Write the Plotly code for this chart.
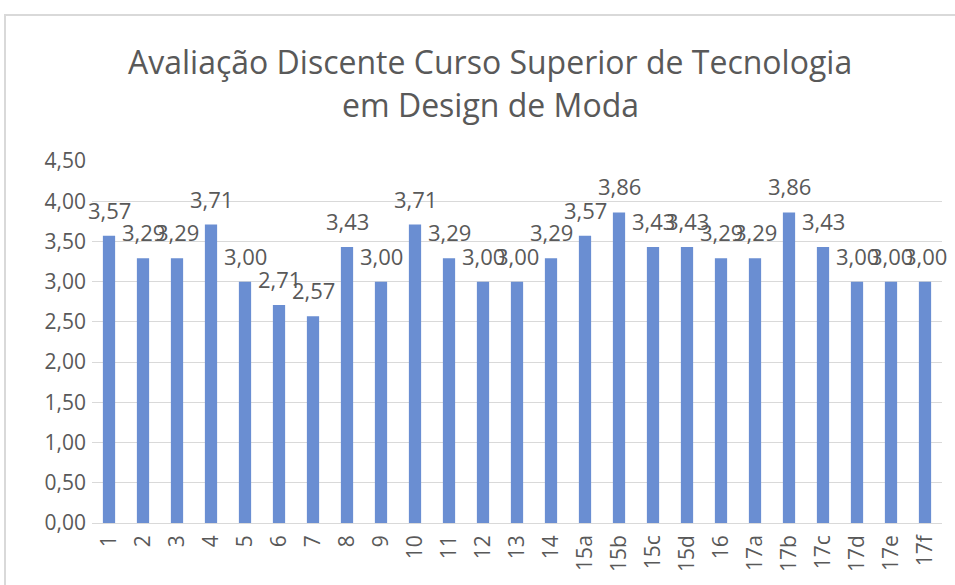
import plotly.graph_objects as go

categories = ["1", "2", "3", "4", "5", "6", "7", "8", "9", "10", "11", "12", "13", "14",
              "15a", "15b", "15c", "15d", "16", "17a", "17b", "17c", "17d", "17e", "17f"]
values = [3.57, 3.29, 3.29, 3.71, 3.00, 2.71, 2.57, 3.43, 3.00, 3.71, 3.29, 3.00, 3.00, 3.29,
          3.57, 3.86, 3.43, 3.43, 3.29, 3.29, 3.86, 3.43, 3.00, 3.00, 3.00]
y_ticks = [0, 0.5, 1.0, 1.5, 2.0, 2.5, 3.0, 3.5, 4.0, 4.5]
title_lines = ["Avaliação Discente Curso Superior de Tecnologia", "em Design de Moda"]

FONT = "Open Sans"
GRAY = "#595959"
BAR = "#6A8ED2"

def fmt(v):
    return f"{v:.2f}".replace(".", ",")

W, H = 955, 585
L, R, T, B = 92, 13, 161, 62
pw, ph = W - L - R, H - T - B

fig = go.Figure()
fig.add_trace(go.Bar(x=categories, y=values, marker=dict(color=BAR, line=dict(width=0)),
                     hoverinfo="x+y"))

annotations = []
for i, v in enumerate(values):
    annotations.append(dict(x=i, y=v, xref="x", yref="y", text=fmt(v), showarrow=False,
                            xanchor="center", yanchor="middle", yshift=26,
                            font=dict(family=FONT, size=22, color=GRAY)))
for line, ypx in zip(title_lines, [62, 105]):
    annotations.append(dict(x=(490 - L) / pw, y=(H - B - ypx) / ph, xref="paper", yref="paper",
                            text=line, showarrow=False, yanchor="middle", xanchor="center",
                            font=dict(family=FONT, size=32, color=GRAY)))

fig.update_layout(
    width=W, height=H,
    margin=dict(l=L, r=R, t=T, b=B, pad=0),
    paper_bgcolor="white", plot_bgcolor="white",
    showlegend=False,
    bargap=0.64,
    annotations=annotations,
    xaxis=dict(type="category", range=[-0.5, len(categories) - 0.5], tickangle=-90,
               showgrid=False, showline=False, ticks="",
               ticklabelstandoff=7, automargin=False,
               tickfont=dict(family=FONT, size=21, color=GRAY)),
    yaxis=dict(range=[0, 4.5], tickvals=y_ticks, ticktext=[fmt(t) for t in y_ticks],
               showgrid=True, gridcolor="#D9D9D9", gridwidth=1, zeroline=True,
               zerolinecolor="#D9D9D9", zerolinewidth=1, showline=False, ticks="",
               ticklabelstandoff=5, automargin=False,
               tickfont=dict(family=FONT, size=21, color=GRAY)),
    shapes=[dict(type="rect", xref="paper", yref="paper",
                 x0=(5 - L) / pw, x1=(W + 20 - L) / pw,
                 y0=-(B + 20) / ph, y1=(H - B - 15) / ph,
                 line=dict(color="#D9D9D9", width=2), fillcolor="rgba(0,0,0,0)", layer="below")],
)

fig.write_html("out.html", config={"displayModeBar": False},
               post_script="document.body.style.margin='0';document.body.style.overflow='hidden';")
